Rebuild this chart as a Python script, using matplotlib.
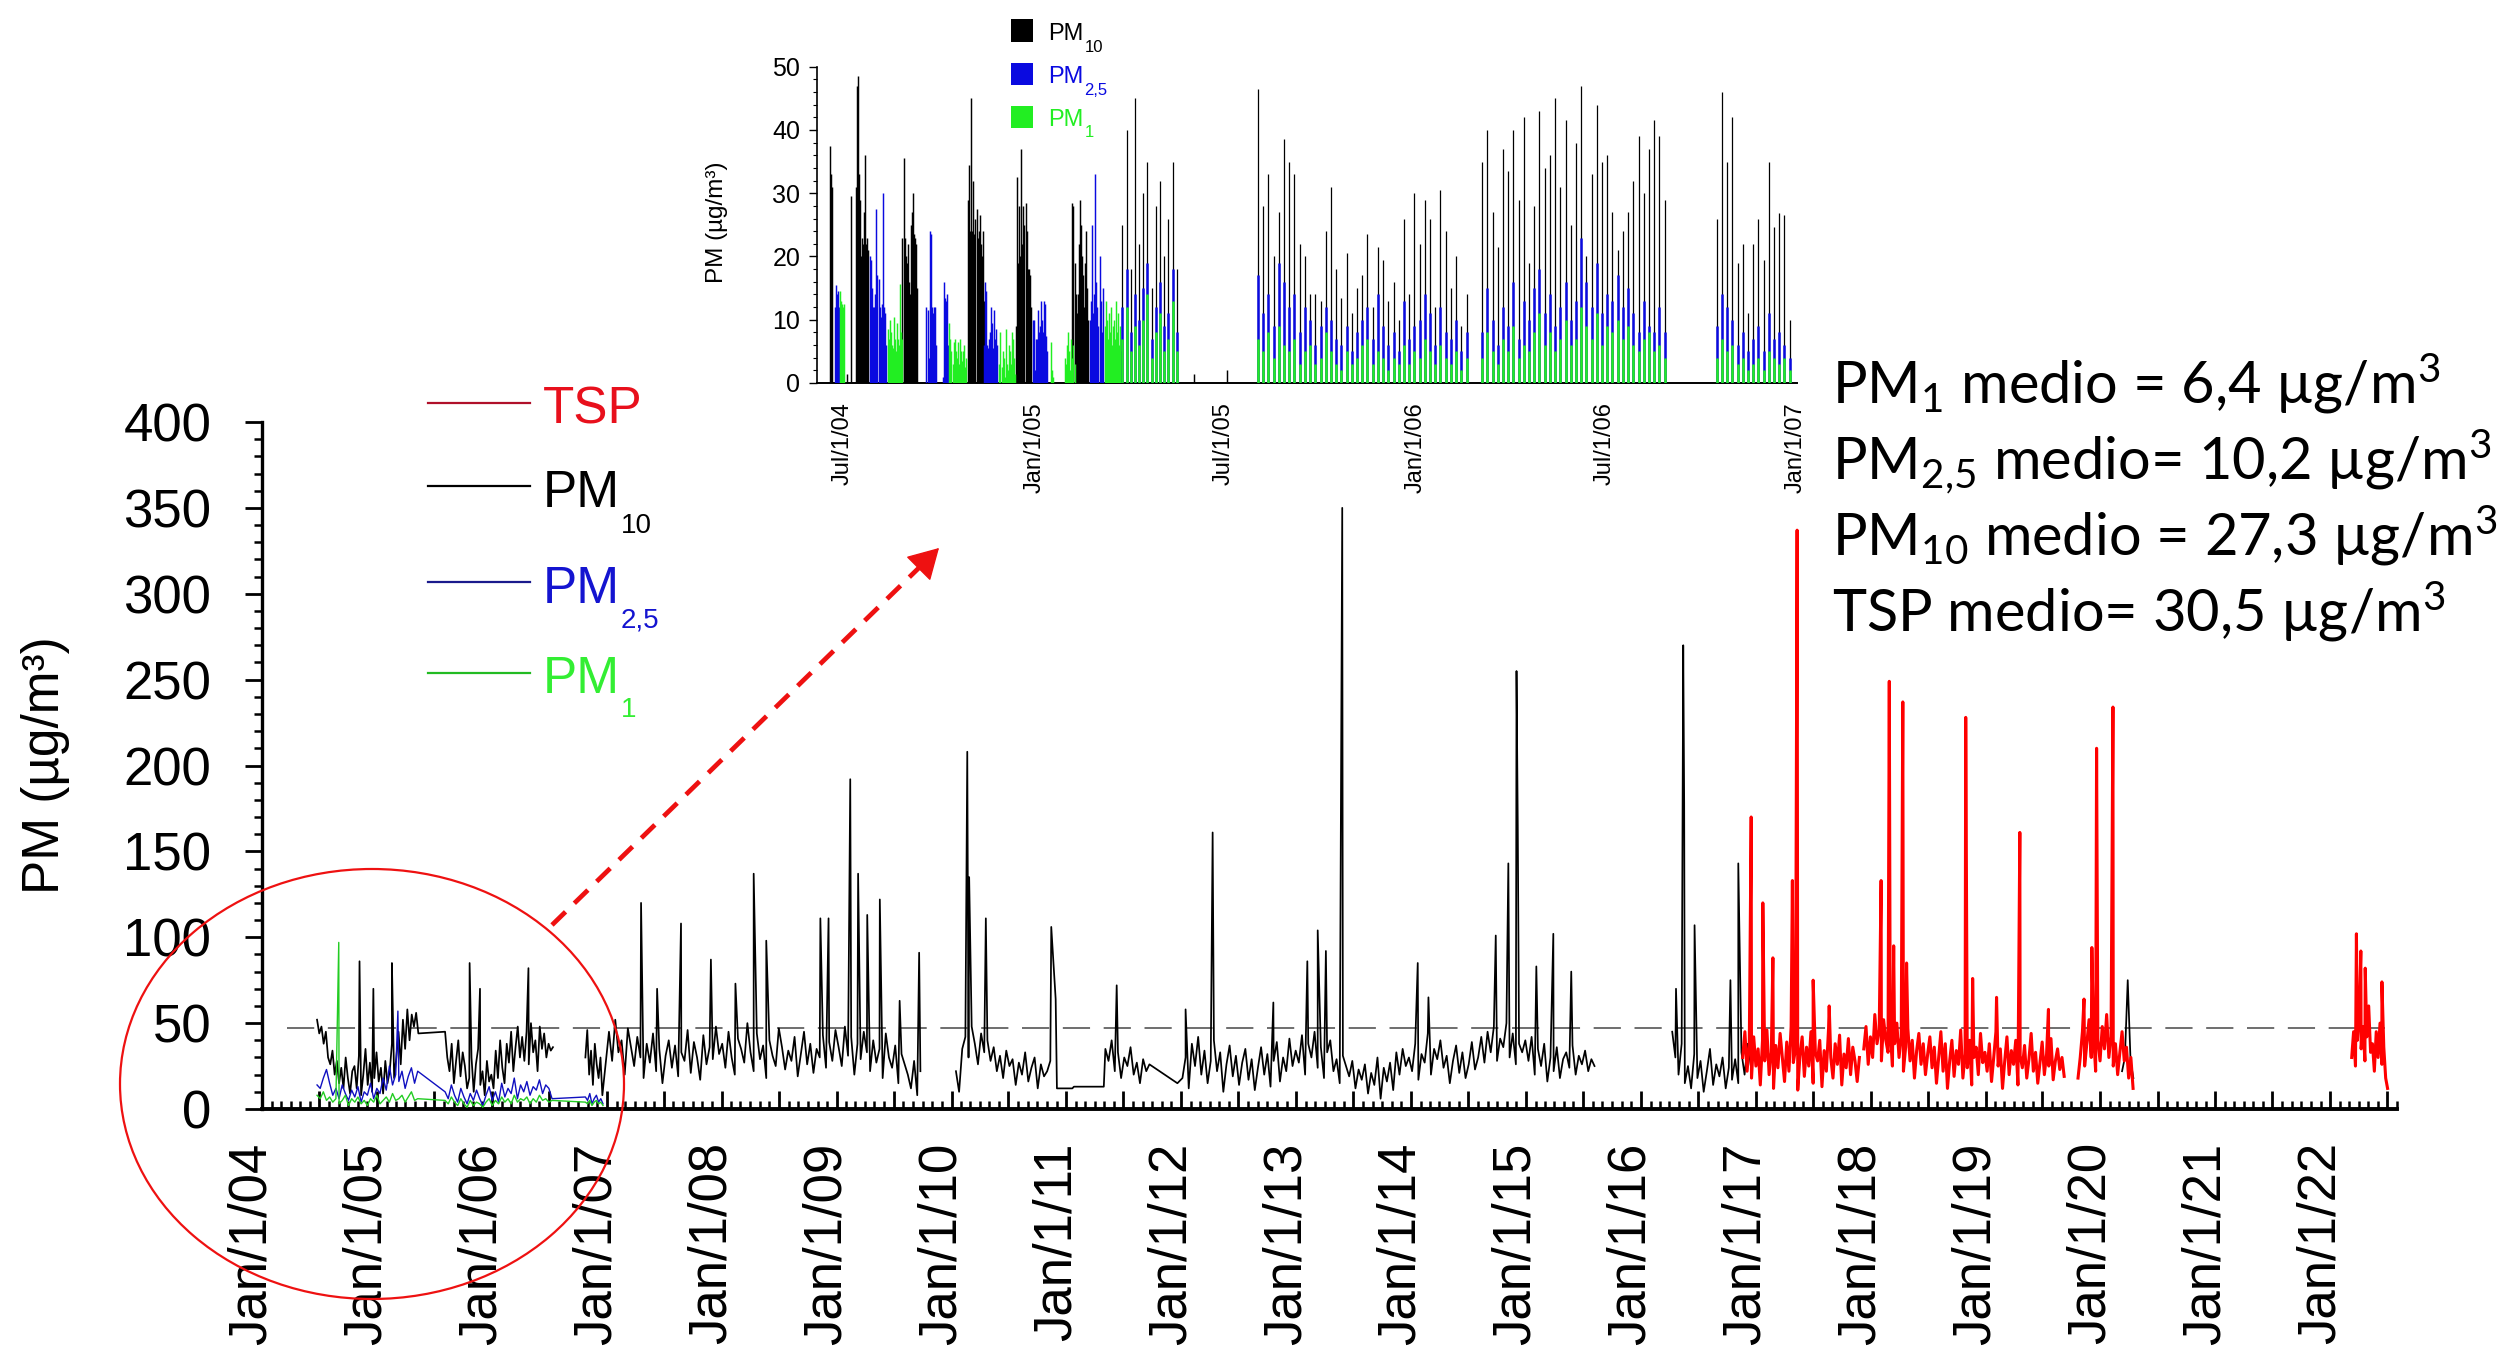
import numpy as np
import matplotlib
matplotlib.use("Agg")
import matplotlib.pyplot as plt
import matplotlib.dates as mdates
from matplotlib.ticker import MultipleLocator, FuncFormatter
from matplotlib.patches import Ellipse, Rectangle, FancyArrowPatch
from matplotlib.lines import Line2D
from matplotlib.transforms import ScaledTranslation

# ======================= DATA : main chart =======================
# PM10 (black) - segments: (start date, step in days, values)
pm10_2004_05 = [52, 44, 48, 38, 45, 30, 26, 34, 20, 28, 15, 24, 12, 30, 18, 9, 22,
                25, 12, 31, 8, 20, 35, 14, 27, 10, 18, 33, 16, 24, 9, 28, 15,
                22, 38, 18, 30, 45, 26, 52, 35, 58, 40, 55, 48, 56, 44]
pm10_2005_06 = [45, 30, 22, 38, 15, 28, 40, 19, 33, 25, 12, 18, 30, 10, 26, 35, 14,
                22, 8, 28, 16, 20, 12, 34, 18, 40, 24, 15, 38, 27, 45, 22, 36, 48,
                30, 42, 28, 45, 26, 50, 33, 40, 22, 48, 35, 44, 30, 38, 34, 36]
pm10_2006_end = [30, 46, 20, 34, 14, 38, 26, 18, 30, 8]
pm10_2007_09 = [45, 28, 52, 33, 40, 20, 47, 36, 25, 42, 30, 18, 38, 27, 44, 22, 35, 15,
                31, 40, 24, 37, 19, 33, 28, 46, 21, 39, 30, 17, 43, 26, 36, 29, 48, 32,
                38, 24, 45, 30, 20, 41, 35, 27, 50, 33, 22, 44, 29, 37, 18, 40, 31, 25,
                47, 36, 23, 34, 28, 42, 19, 32, 45, 26, 38, 21, 35, 30, 43, 24, 39, 28, 46,
                36, 25, 48, 31, 42, 20, 38, 29, 45, 33, 22, 40, 27, 35, 18, 44, 30, 24,
                37, 15, 32, 26, 20, 12, 28, 8, 22]
pm10_2010 = [22, 10, 35, 42, 30, 48, 38, 26, 44, 33, 40, 28, 36, 22, 31, 18, 34, 25,
             29, 14, 27, 20, 33, 16, 24, 30, 12, 26, 19, 22, 28]
pm10_2011 = [35, 28, 40, 22, 33, 18, 30, 25, 36, 20, 27, 15, 29, 22, 26]
pm10_2012_15 = [18, 30, 12, 38, 25, 42, 20, 34, 15, 28, 40, 22, 33, 10, 26, 37, 19, 31,
                14, 27, 35, 17, 29, 11, 24, 36, 20, 32, 13, 28, 39, 16, 30, 22, 41, 25, 34,
                27, 43, 20, 38, 30, 45, 24, 36, 18, 33, 40, 22, 29, 15, 31, 25, 19, 28,
                12, 23, 17, 26, 9, 21, 14, 30, 6, 24, 16, 27, 11, 33, 20, 35, 25, 30,
                22, 38, 17, 32, 27, 44, 20, 35, 29, 40, 24, 31, 15, 28, 37, 21, 33, 18,
                26, 39, 23, 30, 42, 27, 45, 33, 48, 28, 41, 36, 50, 30, 44, 26, 38, 33, 40,
                28, 42, 20, 35, 25, 38, 16, 30, 22, 36, 18, 29, 33, 24, 37, 20, 31, 26,
                34, 22, 29, 25]
pm10_2016 = [45, 30, 20, 38, 15, 25, 12, 32, 18, 28, 10, 22, 35, 14, 26, 19, 30, 12,
             24, 17, 29, 15, 33, 20, 38, 25, 42]
pm10_2020 = [22, 30, 75, 28, 18]
pm10_segments = [("2004-06-24", 7, pm10_2004_05), ("2005-08-05", 7, pm10_2005_06),
                 ("2006-10-25", 6, pm10_2006_end), ("2007-01-08", 10, pm10_2007_09),
                 ("2010-01-15", 10, pm10_2010), ("2011-05-05", 10, pm10_2011),
                 ("2012-01-05", 10, pm10_2012_15), ("2016-04-10", 10, pm10_2016),
                 ("2020-03-10", 9, pm10_2020)]
pm10_peak_dates = ["2004-11-06", "2004-12-20", "2005-02-17", "2005-10-22", "2005-11-24",
                   "2006-04-27", "2007-04-20", "2007-06-10", "2007-08-25", "2007-11-28",
                   "2008-02-14", "2008-04-12", "2008-05-22", "2008-11-10", "2008-12-06",
                   "2009-02-13", "2009-03-10", "2009-04-08", "2009-05-18", "2009-07-20",
                   "2009-09-20", "2010-02-20", "2010-02-26", "2010-04-20", "2010-11-14",
                   "2010-11-28", "2010-12-02", "2011-01-20", "2011-01-25", "2011-04-30",
                   "2011-06-10", "2011-12-20", "2012-01-15", "2012-04-10", "2012-10-20",
                   "2013-02-05", "2013-03-10", "2013-04-05", "2013-05-27", "2014-01-22",
                   "2014-02-25", "2014-09-27", "2014-11-06", "2014-12-02", "2014-12-06",
                   "2015-02-03", "2015-03-29", "2015-05-25", "2016-04-22", "2016-05-15",
                   "2016-05-18", "2016-06-20", "2016-10-12", "2016-11-06"]
pm10_peak_vals = [86, 70, 85, 85, 70,
                  82, 120, 70, 108, 87,
                  73, 137, 98, 111, 111,
                  192, 137, 113, 122, 63,
                  91, 208, 135, 111, 106,
                  64, 12, 12, 13, 13,
                  72, 15, 58, 161, 62,
                  86, 104, 92, 350, 85,
                  65, 101, 143, 255, 165,
                  83, 102, 80, 70, 270,
                  178, 107, 75, 143]
pm10_breaks = ["2006-08-15", "2009-11-01", "2015-11-01", "2018-01-01"]

# TSP (red)
tsp_2016_17 = [30, 45, 22, 38, 18, 42, 25, 35, 14, 40, 28, 46, 20, 33, 12, 37, 24, 44,
               30, 16, 39, 22, 48, 27, 35, 11, 31, 42, 19, 36, 25, 45, 15, 33, 28, 40,
               13, 34, 22, 47, 30, 18, 38, 26, 43, 14, 32, 24, 41, 20, 36, 28, 16, 30]
tsp_2018_19 = [35, 48, 26, 42, 30, 55, 38, 46, 28, 52, 40, 33, 45, 25, 38, 50, 30, 42,
               22, 36, 47, 28, 40, 18, 34, 44, 26, 38, 20, 32,
               42, 24, 36, 15, 30, 45, 22, 38, 12, 28, 40, 19, 34, 26, 46, 18, 32, 24,
               40, 14, 30, 36, 20, 44, 27, 33,
               22, 38, 16, 30, 45, 25, 35, 12, 28, 42, 20, 34, 26, 40, 14, 31, 24, 37,
               18, 29, 44, 22, 33, 15, 27, 39, 20, 32, 25, 41, 17, 28, 35, 23, 30, 19]
tsp_2019_20 = [18, 30, 45, 25, 38, 52, 30, 44, 22, 40, 28, 48, 35, 55, 30, 42, 25, 38,
               20, 33, 45, 28, 36, 18, 30, 12]
tsp_2022 = [30, 45, 25, 40, 55, 35, 48, 28, 42, 60, 33, 38, 22, 45, 30, 50, 26, 36, 18, 12]
tsp_segments = [("2016-11-20", 7, tsp_2016_17), ("2017-12-10", 7, tsp_2018_19),
                ("2019-10-22", 7, tsp_2019_20), ("2022-03-10", 6, tsp_2022)]
tsp_peak_dates = ["2016-12-17", "2017-01-23", "2017-02-24", "2017-04-27", "2017-05-12",
                  "2017-07-02", "2017-08-22", "2018-02-03", "2018-03-01", "2018-03-15",
                  "2018-04-13", "2018-04-25", "2018-10-30", "2018-11-21", "2019-02-05",
                  "2019-04-20", "2019-07-20", "2019-11-10", "2019-12-05", "2019-12-20",
                  "2020-02-10", "2022-03-25", "2022-04-08", "2022-04-22", "2022-06-14"]
tsp_peak_vals = [170, 120, 88, 133, 337,
                 75, 60, 133, 249, 95,
                 237, 85, 228, 76, 65,
                 161, 58, 64, 94, 210,
                 234, 102, 92, 82, 74]
tsp_breaks = ["2017-12-03", "2019-09-25", "2021-01-01"]

# PM2.5 (blue)
pm25_2004_05 = [14, 12, 18, 23, 15, 8, 12, 6, 14, 9, 5, 11, 7, 13, 4, 10, 8, 15, 6, 12,
                9, 18, 11, 25, 14, 20, 16, 22, 12, 19, 24, 15, 22]
pm25_2005_06 = [10, 6, 14, 8, 4, 12, 7, 3, 9, 5, 11, 6, 2, 8, 13, 5, 10, 4, 15, 7, 12,
                9, 18, 6, 14, 10, 16, 8, 13, 11, 17, 9, 14, 12, 6]
pm25_2006_end = [7, 5, 9, 3, 6, 8, 4, 6, 3]
pm25_segments = [("2004-06-24", 10, pm25_2004_05), ("2005-08-05", 10, pm25_2005_06),
                 ("2006-10-25", 7, pm25_2006_end)]
pm25_peak_dates = ["2005-03-08"]
pm25_peak_vals = [57]

# PM1 (green)
pm1_2004_05 = [8, 6, 10, 5, 7, 4, 6, 3, 5, 8, 2, 6, 4, 7, 3, 5, 2, 6, 4, 8, 3, 5, 7, 4,
               9, 5, 6, 8, 4, 7, 10, 5, 6]
pm1_2005_06 = [5, 3, 7, 4, 2, 6, 3, 1, 5, 2, 4, 3, 1, 4, 6, 2, 5, 3, 7, 4, 6, 3, 8, 4,
               6, 5, 7, 3, 6, 4, 8, 5, 6, 4, 5]
pm1_2006_end = [4, 3, 5, 2, 4, 5, 3, 4, 2]
pm1_segments = [("2004-06-24", 10, pm1_2004_05), ("2005-08-05", 10, pm1_2005_06),
                ("2006-10-25", 7, pm1_2006_end)]
pm1_peak_dates = ["2004-09-01"]
pm1_peak_vals = [97]

limit_value = 47

# ======================= DATA : inset (daily bars) =======================
in_pm10_blocks = [("2004-06-18", [37.5, 33, 31]), ("2004-07-05", [1.5]), ("2004-07-09", [29.5]),
                  ("2004-07-13", [31, 47, 48.5, 33, 29, 20, 23, 22, 27, 36, 22, 23, 21]),
                  ("2004-08-27", [23, 35.5, 23, 20, 19, 22, 16, 14, 25, 27, 30, 23.5, 23, 22, 15]),
                  ("2004-10-29", [29, 34.5, 24, 45, 24, 32, 23.5, 26, 27.5, 23, 24, 26.5, 22, 20, 24, 13]),
                  ("2004-12-14", [9, 32.5, 19, 28, 20, 37, 22, 28, 25, 28.5, 24, 18, 18, 17, 12]),
                  ("2005-02-06", [28.5, 28, 19, 14, 11, 14, 22, 29, 25, 20, 17, 12, 19, 24, 15, 10]),
                  ("2005-06-03", [1.5]), ("2005-07-04", [2])]
in_pm25_blocks = [("2004-06-23", [12, 15.5, 14, 14.5, 12]),
                  ("2004-07-27", [20, 19.5, 15, 12, 12, 14, 27.5, 17, 16.5, 12, 10.5, 12.5, 30, 12, 11, 6]),
                  ("2004-09-19", [12, 11.5, 4, 24, 23.5, 12, 11, 12, 12, 6]),
                  ("2004-10-05", [1, 16, 13.5, 13, 14, 6]),
                  ("2004-11-13", [6, 16, 14.5, 6, 5.5, 7, 8, 12, 9.5, 5.5, 11.5, 7, 8.5, 6]),
                  ("2004-12-30", [10, 10, 2, 7, 7, 11.5, 8, 9, 13, 10, 8, 13, 12.5, 7.5, 5]),
                  ("2005-02-23", [10, 13, 25, 11, 14, 33, 16, 12, 9, 20, 13, 8, 15])]
in_pm1_blocks = [("2004-06-28", [14.5, 13, 12.5, 12, 12.5]),
                 ("2004-08-13", [8.5, 7, 10, 8, 6, 5.5, 10.5, 7, 5, 9.5, 7, 6, 15.6, 8, 7]),
                 ("2004-10-11", [9.5, 7, 5, 3, 6.5, 7, 5, 4, 6.5, 3, 7, 5, 3.5, 5, 6, 2.5, 4]),
                 ("2004-11-28", [3, 8, 2.5, 5, 4, 1, 8.5, 3, 2, 6, 5, 3, 8, 7, 4, 1.5]),
                 ("2005-01-16", [6.5, 2, 1]),
                 ("2005-01-30", [4, 3, 6, 8, 5, 2, 7, 4, 6, 3]),
                 ("2005-03-09", [9, 13, 10, 7, 11, 8, 12, 6, 9, 10, 7, 13, 8, 11, 6, 9, 5])]
# co-located periods: (start, step days)
in_periods = [("2005-03-26", 4), ("2005-08-03", 5), ("2006-03-06", 5), ("2006-10-17", 5)]
in_pm10_sets = [[25, 40, 18, 45, 22, 30, 35, 15, 28, 32, 20, 26, 35, 18],
                [46.5, 28, 33, 20, 27, 38.5, 35, 33, 22, 20, 14, 14, 13, 24, 31, 18, 13.5,
                 20.5, 11, 15, 17, 23.5, 12, 21.5, 19.5, 13, 16, 10, 26, 14, 30, 22, 29,
                 26, 12, 30.5, 24, 15, 20, 9, 14],
                [35, 40, 27, 21.5, 37, 33.5, 40, 29, 42, 19, 28, 43, 34, 36, 45, 31, 41.5,
                 25, 38, 47, 20, 33, 44, 35, 36, 27, 21, 24, 27, 32, 39, 30, 37, 41.5, 39, 29],
                [26, 46, 35, 42, 19, 22, 11, 22, 26, 19.5, 35, 24.7, 26.8, 26.6, 10]]
in_pm25_sets = [[12, 18, 8, 14, 10, 15, 19, 7, 12, 16, 9, 11, 18, 8],
                [17, 11, 14, 9, 19, 16, 12, 14, 8, 12, 10, 6, 9, 12, 10, 7, 6, 9, 5, 8, 10,
                 12, 7, 14, 9, 6, 8, 5, 13, 7, 9, 10, 14, 11, 6, 12, 8, 7, 10, 5, 8],
                [8, 15, 10, 6, 12, 9, 16, 7, 13, 10, 15, 18, 11, 14, 9, 12, 16, 10, 13, 23,
                 16, 12, 19, 11, 14, 13, 17, 12, 15, 11, 8, 13, 9, 8, 12, 8],
                [9, 14, 12, 10, 6, 8, 5, 7, 9, 5, 11, 7, 8, 6, 4]]
in_pm1_sets = [[7, 12, 5, 9, 6, 10, 14, 4, 8, 11, 5, 7, 13, 5],
               [7, 5, 8, 4, 9, 6, 5, 7, 3, 5, 6, 3, 4, 8, 5, 3, 2, 5, 3, 4, 6, 7, 3, 5,
                4, 2, 4, 3, 6, 3, 5, 4, 7, 5, 3, 6, 4, 3, 5, 2, 4],
               [4, 8, 5, 3, 7, 5, 9, 4, 6, 5, 8, 11, 6, 8, 5, 7, 10, 6, 7, 12, 9, 7, 11, 6,
                9, 8, 10, 7, 9, 6, 5, 7, 8, 5, 6, 4],
               [4, 7, 5, 6, 3, 4, 2, 3, 4, 2, 5, 4, 3, 4, 2]]

stats_lines = [r"PM$_{1}$ medio = 6,4 µg/m$^{3}$",
               r"PM$_{2{,}5}$ medio= 10,2 µg/m$^{3}$",
               r"PM$_{10}$ medio = 27,3 µg/m$^{3}$",
               r"TSP medio= 30,5 µg/m$^{3}$"]

# ======================= helpers =======================
def seg(start, step, vals):
    d = np.datetime64(start, "D") + np.arange(len(vals)) * np.timedelta64(step, "D")
    return d, np.asarray(vals, dtype=float)


def build(segments, pk_dates=(), pk_vals=(), breaks=()):
    ds, vs = [], []
    for s, st, vals in segments:
        d, v = seg(s, st, vals)
        ds.append(d); vs.append(v)
    ds.append(np.array(pk_dates, dtype="datetime64[D]")); vs.append(np.array(pk_vals, float))
    br = np.array(breaks, dtype="datetime64[D]")
    ds.append(br); vs.append(np.full(len(br), np.nan))
    d = np.concatenate(ds); v = np.concatenate(vs)
    o = np.argsort(d, kind="stable")
    return d[o], v[o]


def blocks(bl):
    ds, vs = [], []
    for s, vals in bl:
        d, v = seg(s, 1, vals)
        ds.append(d); vs.append(v)
    return np.concatenate(ds), np.concatenate(vs)


def date_label(x, pos, months=(1,)):
    d = mdates.num2date(x)
    return f"{d:%b}/{d.day}/{d:%y}" if d.month in months else ""


# ======================= figure =======================
W, H = 2509, 1355
plt.rcParams["font.family"] = ["Liberation Sans", "DejaVu Sans"]
plt.rcParams["mathtext.default"] = "regular"
fig = plt.figure(figsize=(W / 100, H / 100), dpi=100)
fig.patch.set_facecolor("white")


def fx(px):
    return px / W


def fy(py):
    return 1 - py / H


# ---------------- main axes ----------------
ax = fig.add_axes([fx(262), fy(1109), (2397 - 262) / W, (1109 - 422) / H])
ax.set_xlim(np.datetime64("2004-01-01"), np.datetime64("2022-08-01"))
ax.set_ylim(0, 400)

ax.hlines(limit_value, np.datetime64("2004-03-20"), np.datetime64("2022-06-25"),
          colors="#6e6e6e", linestyles=(0, (14, 7)), linewidth=1.4, zorder=1)

d, v = build(pm10_segments, pm10_peak_dates, pm10_peak_vals, pm10_breaks)
ax.plot(d, v, color="black", lw=1.25, zorder=3)
d, v = build(pm25_segments, pm25_peak_dates, pm25_peak_vals)
ax.plot(d, v, color="#1010c0", lw=1.0, zorder=4)
d, v = build(pm1_segments, pm1_peak_dates, pm1_peak_vals)
ax.plot(d, v, color="#22cc22", lw=1.0, zorder=5)
d, v = build(tsp_segments, tsp_peak_dates, tsp_peak_vals, tsp_breaks)
ax.plot(d, v, color="#ff0000", lw=2.2, zorder=6)

for s in ("top", "right"):
    ax.spines[s].set_visible(False)
ax.spines["left"].set_linewidth(2.4)
ax.spines["bottom"].set_linewidth(2.8)

ax.yaxis.set_major_locator(MultipleLocator(50))
ax.yaxis.set_minor_locator(MultipleLocator(10))
ax.tick_params(axis="y", which="major", direction="out", length=12.5, width=2.0,
               labelsize=38, pad=24)
ax.tick_params(axis="y", which="minor", direction="out", length=6, width=1.8)

ax.xaxis.set_major_locator(mdates.MonthLocator(bymonth=[1, 7]))
ax.xaxis.set_minor_locator(mdates.MonthLocator())
ax.xaxis.set_major_formatter(FuncFormatter(lambda x, p: date_label(x, p, (1,))))
ax.tick_params(axis="x", which="major", direction="in", length=13, width=2.0,
               labelsize=38, labelrotation=90, pad=24)
ax.tick_params(axis="x", which="minor", direction="in", length=5.5, width=1.8)

ax.set_ylabel("PM (µg/m³)", fontsize=37)
ax.yaxis.set_label_coords(-0.1016, 0.5)
ax.yaxis.label.set_verticalalignment("center")

# ---------------- inset axes ----------------
axi = fig.add_axes([fx(817), fy(383), (1797 - 817) / W, (383 - 66.7) / H])
axi.set_xlim(np.datetime64("2004-06-06"), np.datetime64("2007-01-02"))
axi.set_ylim(0, 50)

for bl, col in ((in_pm10_blocks, "black"), (in_pm25_blocks, "#0a0ae0"), (in_pm1_blocks, "#22ee22")):
    d, v = blocks(bl)
    axi.vlines(d, 0, v, colors=col, linewidth=1.05, zorder=3)
for sets, col, lw, z in ((in_pm10_sets, "black", 0.9, 3), (in_pm25_sets, "#0a0ae0", 1.8, 4),
                         (in_pm1_sets, "#22ee22", 1.8, 5)):
    for (s, st), vals in zip(in_periods, sets):
        d, v = seg(s, st, vals)
        axi.vlines(d, 0, v, colors=col, linewidth=lw, zorder=z)

for s in ("top", "right"):
    axi.spines[s].set_visible(False)
axi.spines["left"].set_linewidth(1.2)
axi.spines["bottom"].set_linewidth(1.4)
axi.yaxis.set_major_locator(MultipleLocator(10))
axi.yaxis.set_minor_locator(MultipleLocator(2))
axi.tick_params(axis="y", which="major", direction="out", length=6, width=1.0,
                labelsize=18, pad=6)
axi.tick_params(axis="y", which="minor", direction="out", length=3, width=0.8)
axi.xaxis.set_major_locator(mdates.MonthLocator(bymonth=[1, 7]))
axi.xaxis.set_minor_locator(mdates.MonthLocator(bymonth=[1, 7]))
axi.xaxis.set_major_formatter(FuncFormatter(lambda x, p: date_label(x, p, (1, 7))))
axi.tick_params(axis="x", which="both", length=0, labelsize=17, labelrotation=90, pad=14)
axi.set_ylabel("PM (µg/m³)", fontsize=17.5)
axi.yaxis.set_label_coords(-0.102, 0.509)
axi.yaxis.label.set_verticalalignment("center")

# ---------------- annotations ----------------
renderer = fig.canvas.get_renderer()


def runs(x, y, parts, family=("Liberation Sans", "DejaVu Sans")):
    for text, size, dy, color in parts:
        t = fig.text(fx(x), fy(y + dy), text, fontsize=size, color=color,
                     family=list(family), va="baseline", ha="left")
        x = t.get_window_extent(renderer).x1 + 1


# main legend (lines + labels)
leg_items = [("TSP", None, "#b0102a", "#e8101c", 403, 423, 0),
             ("PM", "10", "black", "black", 486, 507, 26),
             ("PM", "2,5", "#1a1a8c", "#1414d0", 582, 603, 25),
             ("PM", "1", "#22bb22", "#33ee33", 673, 693, 24)]
for txt, sub, lcol, tcol, yl, yb, sdy in leg_items:
    fig.add_artist(Line2D([fx(428), fx(530)], [fy(yl), fy(yl)], color=lcol, lw=1.6,
                          transform=fig.transFigure))
    parts = [(txt, 37, 0, tcol)]
    if sub:
        parts.append((sub, 20, sdy, tcol))
    runs(543, yb, parts)

# inset legend (squares + labels)
in_leg = [("10", "black", "black", 30.5, 40, 12),
          ("2,5", "#0a0ae0", "#0a0ae0", 74, 83, 12),
          ("1", "#22ee22", "#22ee22", 116.5, 126, 11)]
for sub, scol, tcol, yc, yb, sdy in in_leg:
    fig.add_artist(Rectangle((fx(1011), fy(yc + 11)), 22 / W, 22 / H, facecolor=scol,
                             edgecolor="none", transform=fig.transFigure))
    runs(1048, yb, [("PM", 17, 0, tcol), (sub, 12, sdy, tcol)])

# statistics block
stat_texts = []
for i, line in enumerate(stats_lines):
    t = fig.text(fx(1832), fy(403 + 76 * i), line, fontsize=44, color="black",
                 family=["Lato", "DejaVu Sans"], va="baseline", ha="left")
    stat_texts.append(t)
w0 = stat_texts[0].get_window_extent(renderer).width
for t in stat_texts:
    t.set_fontsize(44 * 608 / w0)

# red ellipse around 2004-2007
fig.add_artist(Ellipse((fx(372), fy(1084)), 504 / W, 430 / H, fill=False,
                       edgecolor="#ee1111", lw=1.6, transform=fig.transFigure))
# dashed arrow towards the inset
fig.add_artist(Line2D([fx(552), fx(928)], [fy(925), fy(559)], color="#ee1111", lw=3.4,
                      linestyle=(0, (4, 2.6)), transform=fig.transFigure))
fig.add_artist(FancyArrowPatch((fx(922), fy(565)), (fx(941), fy(546)),
                               arrowstyle="-|>,head_length=1.4,head_width=0.8",
                               mutation_scale=14, color="#ee1111", lw=1,
                               transform=fig.transFigure))

# shift main x tick labels slightly left as in the reference
offset = ScaledTranslation(-10 / 100, 0, fig.dpi_scale_trans)
for tk in ax.xaxis.get_major_ticks():
    tk.label1.set_transform(tk.label1.get_transform() + offset)

fig.savefig("out.png", dpi=100, facecolor="white")
